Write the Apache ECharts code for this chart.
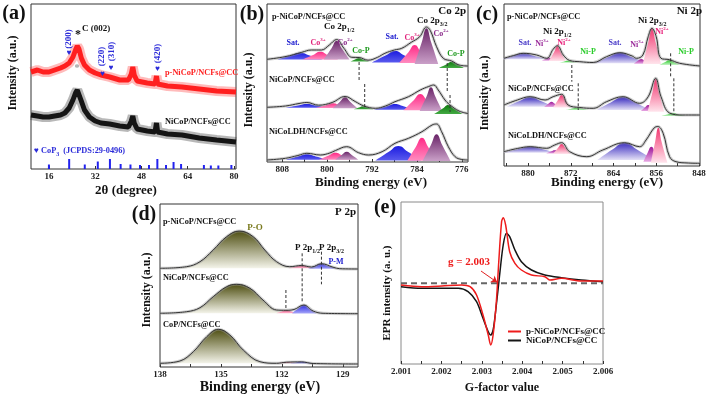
<!DOCTYPE html>
<html>
<head>
<meta charset="utf-8">
<title>p-NiCoP/NCFs@CC characterization</title>
<script src="https://cdn.jsdelivr.net/npm/echarts@6.0.0/dist/echarts.min.js"></script>
<style>
  html, body { margin: 0; padding: 0; background: #fff; }
  #chart { width: 708px; height: 394px; }
</style>
</head>
<body>
<div id="chart"></div>
<script>
const FONT = '"Liberation Serif", "Times New Roman", serif'

// (a) XRD, 2θ in degree, intensity in a.u.
const xrdTicks = [16, 32, 48, 64, 80]
const xrdRed = [[9.8, 97], [12, 99], [14, 97], [16, 97], [18, 99], [20, 101], [21.5, 103], [23, 106], [24.3, 112], [25.2, 119], [25.8, 123], [26.4, 120], [27.2, 111], [28.3, 104], [30, 99], [32, 96], [34, 94], [37, 92], [40.5, 89], [43.5, 89], [44.5, 95], [45, 102], [45.5, 94], [46.5, 88], [50, 86], [52.7, 85], [53.2, 93], [53.6, 85], [57, 83], [62, 82], [68, 80], [74, 78], [80.7, 77]]
const xrdBlack = [[9.8, 54], [12, 53], [14, 52], [16, 52], [18, 53], [20, 54], [21.5, 56], [23, 61], [24.3, 69], [25.2, 76], [25.8, 79], [26.4, 77], [27.2, 68], [28.3, 59], [30, 52], [32, 48], [34, 46], [37, 45], [40.5, 43], [43.5, 42], [44.5, 48], [45, 53], [45.5, 46], [46.5, 40], [50, 38], [52.7, 37], [53.2, 46], [53.6, 37], [57, 35], [62, 34], [68, 31], [74, 29], [80.7, 27]]
const cop3Ref = [[16.0, 4.5], [23.0, 10], [28.4, 4.5], [32.9, 7.5], [37.1, 10], [40.8, 5], [44.2, 4.5], [47.5, 4], [50.6, 4], [53.5, 10], [56.5, 4], [59.1, 7], [61.7, 5], [69.6, 4], [72.0, 3.5], [74.6, 3.5], [79.1, 4]]

// (b) Co 2p
const coTicks = [776, 784, 792, 800, 808]
const coMinor = [776, 780, 784, 788, 792, 796, 800, 804, 808]
const coTopEnv = [[810.7, 102.7], [807.5, 105.3], [804.5, 109.7], [802.8, 112], [801, 112], [799.6, 117], [798.3, 122.5], [797, 113.7], [795.6, 104.7], [794.3, 104.5], [792.7, 101.8], [791, 104.7], [789.7, 108.7], [788, 112], [786.7, 113.7], [785, 119.7], [783.5, 125.3], [782.3, 135], [781.6, 131.3], [780.5, 115.3], [779.3, 103.7], [777.8, 101], [776.5, 97], [774.9, 96]]
const coTopSat = [[[808.9, 102.5], [806.5, 106.6], [804.8, 109.3], [803.1, 106.6], [800.7, 102.5]], [[792.0, 99.5], [789.5, 106.7], [787.9, 111], [786.3, 106.7], [783.9, 99.5]]]
const coTopCo3 = [[[804.4, 102.5], [802.5, 107], [801.2, 110.3], [799.9, 107], [798.0, 102.5]], [[787.2, 99], [785.5, 109.8], [784.4, 117], [783.3, 109.8], [781.6, 99]]]
const coTopCo2 = [[[800.6, 102.5], [799.2, 113.8], [798.3, 121.3], [797.4, 113.8], [796.0, 102.5]], [[784.4, 98], [783.15, 119.4], [782.3, 133.7], [781.45, 119.4], [780.2, 98]]]
const coTopCoP = [[[795.9, 100.5], [795.0, 102.6], [794.3, 104], [793.6, 102.6], [792.4, 100.5]], [[780.1, 94], [778.7, 97.8], [777.8, 100.3], [776.9, 97.8], [775.6, 94]]]
const coMidEnv = [[810.7, 54.7], [807.4, 56], [805, 58.5], [803.6, 59.5], [801.5, 56.8], [799.1, 59.5], [796.8, 65.5], [795, 60.5], [793.5, 56.2], [791.4, 53.7], [789.6, 56], [787.9, 60.3], [785.5, 65.3], [783.4, 72], [781.9, 75.5], [781.0, 77], [780.2, 72], [779, 62], [778.2, 57.5], [776.5, 51], [774.9, 48.5]]
const coMidSat = [[[807.4, 54.3], [805.2, 56.5], [803.6, 58], [802, 56.5], [799.8, 54.3]], [[791.6, 52.3], [789.4, 55.7], [787.9, 58], [786.4, 55.7], [784.2, 52.3]]]
const coMidCo3 = [[[802, 54], [800.2, 56.8], [799, 58.7], [797.8, 56.8], [796, 54]], [[786.4, 51.7], [784.6, 61.5], [783.4, 68], [782.2, 61.5], [780.4, 51.7]]]
const coMidCo2 = [[[799, 53.7], [797.7, 60.3], [796.8, 64.7], [795.9, 60.3], [794.6, 53.7]], [[783.5, 51], [782.3, 65.2], [781.5, 74.7], [780.7, 65.2], [779.5, 51]]]
const coMidCoP = [[[795.3, 52.7], [794.3, 54.5], [793.5, 55.7], [792.7, 54.5], [791.7, 52.7]], [[780.9, 48], [779.4, 53.4], [778.4, 57], [777.4, 53.4], [775.9, 48]]]
const coBotEnv = [[810.7, 2], [807.4, 3.7], [805.2, 6.5], [803.6, 8.7], [801.2, 7], [799.5, 9], [798.5, 11.5], [796.5, 15.3], [794.4, 9.3], [792.6, 7], [790.2, 10.3], [787.9, 18.7], [785.5, 23.7], [783.1, 30.3], [781.3, 37], [780.5, 38], [779.6, 30.3], [778.4, 15.3], [777.2, 5.3], [776, 2.5], [774.9, 2]]
const coBotSat = [[[807.4, 2.3], [805.2, 5.5], [803.6, 7.7], [802, 5.5], [799.8, 2.3]], [[791.4, 1.5], [789, 10.2], [787.3, 16], [785.6, 10.2], [783.2, 1.5]]]
const coBotCo3 = [[[801.5, 2.2], [799.7, 6.5], [798.5, 9.3], [797.3, 6.5], [795.7, 2.2]], [[785.7, 1.3], [784.2, 15.1], [783.1, 24.3], [782, 15.1], [780.5, 1.3]]]
const coBotCo2 = [[[798.6, 2.2], [797.4, 7.1], [796.5, 10.3], [795.6, 7.1], [794.4, 2.2]], [[783, 1], [781.5, 17], [780.5, 27.7], [779.5, 17], [778, 1]]]
const coDashes = [[794.3, 100, 80], [793.3, 78, 55], [778.6, 99, 70], [778.1, 67, 50]]

// (c) Ni 2p
const niTicks = [848, 856, 864, 872, 880]
const niMinor = [848, 852, 856, 860, 864, 868, 872, 876, 880, 884]
const niTopEnv = [[884.5, 107.7], [882.7, 110.5], [880.9, 112.7], [878.4, 111], [876.5, 107.7], [875.3, 116.7], [874.5, 120.3], [873.4, 111], [872.2, 105.5], [870.3, 104.3], [867.8, 103.5], [865.3, 109.3], [862.8, 113.3], [860.5, 110], [859.7, 107.7], [858.5, 111], [857.5, 129.3], [856.8, 137.7], [856, 129.3], [855.1, 107.7], [853.5, 106.3], [851.6, 102.7], [847.8, 100]]
const niTopSat = [[[885, 106.7], [882.8, 110.3], [880.9, 112.7], [879, 110.3], [876.3, 106.7]], [[867.8, 102.7], [865, 109], [862.8, 113.3], [860.6, 109], [857.8, 102.7]]]
const niTopNi3 = [[[877.5, 105.3], [876.7, 107.1], [876.1, 108.5], [875.5, 107.1], [874.6, 105.3]], [[860.2, 102.3], [859.4, 105.2], [858.8, 107], [858.2, 105.2], [857.3, 102.3]]]
const niTopNi2 = [[[876.1, 105], [875.1, 114.2], [874.5, 120.3], [873.9, 114.2], [872.9, 105]], [[858.5, 102], [857.5, 123.4], [856.8, 137.7], [856.1, 123.4], [855.1, 102]]]
const niTopNiP = [[[874.2, 103.3], [873.3, 104.3], [872.5, 105.2], [871.7, 104.3], [870.5, 103.3]], [[855.4, 101], [854.3, 104], [853.5, 106], [852.7, 104], [851.6, 101]]]
const niMidEnv = [[884.5, 61], [882, 66], [879.6, 69.3], [876.8, 66], [875.3, 69.3], [873.7, 71.7], [872.5, 61], [870.3, 58.5], [867.8, 57.7], [865.3, 64.3], [862.2, 69.3], [859.1, 62.7], [857.5, 69.3], [856.1, 87.7], [855.1, 69.3], [853.5, 53], [851, 51], [847.8, 51]]
const niMidSat = [[[884, 59.3], [881.6, 65], [879.6, 68.7], [877.6, 65], [875.2, 59.3]], [[867.2, 56], [864.5, 63.6], [862.2, 68.7], [859.9, 63.6], [857.2, 56]]]
const niMidNi3 = [[[877, 59], [876.2, 62.2], [875.6, 64.3], [875, 62.2], [874.1, 59]], [[858.9, 55], [858.1, 58.6], [857.5, 61], [856.9, 58.6], [856, 55]]]
const niMidNi2 = [[[875.3, 58.5], [874.4, 66], [873.7, 71], [873, 66], [872, 58.5]], [[857.6, 54.3], [856.7, 74], [856.1, 87], [855.5, 74], [854.5, 54.3]]]
const niMidNiP = [[[872.8, 56], [871.7, 57.4], [870.9, 58.3], [870.1, 57.4], [868.7, 56]], [[855.1, 50], [853.9, 51.6], [852.9, 52.7], [851.9, 51.6], [850.5, 50]]]
const niBotEnv = [[884.5, 14.3], [882, 17.5], [879.6, 19.3], [876.5, 17.7], [875, 21], [873.7, 23.3], [872.2, 14.3], [869, 9.3], [866, 16], [861.9, 23.3], [859.1, 19.3], [857.9, 26], [856.4, 38], [855.7, 39.5], [854.7, 32.7], [853.5, 9.3], [852.3, 4.3], [850, 3], [847.8, 2.7]]
const niBotSat = [[[884.6, 13.3], [881.8, 17], [879.6, 19.3], [877.4, 17], [874.8, 13.3]], [[867, 6], [864.2, 16.4], [861.9, 23.3], [859.6, 16.4], [856.5, 6]]]
const niBotNi3 = [[[876.6, 12.5], [875.7, 14.5], [875, 15.8], [874.3, 14.5], [873.3, 12.5]], [[858.4, 4.3], [857.6, 13.3], [856.9, 19.3], [856.2, 13.3], [855.3, 4.3]]]
const niBotNi2 = [[[875.3, 12], [874.4, 18], [873.7, 22], [873, 18], [872, 12]], [[857, 3.3], [856.2, 24.3], [855.6, 38.3], [855, 24.3], [853.9, 3.3]]]
const niDashes = [[871.8, 101, 84.3], [870.6, 82.7, 56], [853.3, 112.7, 89.3], [852.7, 87.7, 52.7]]

// (d) P 2p
const pTicks = [129, 132, 135, 138]
const pMinor = [129, 130.5, 132, 133.5, 135, 136.5, 138]
const pTopEnv = [[138, 98.7], [136.69, 100.3], [136.03, 105.3], [135.38, 117], [134.72, 130.3], [134.1, 136], [133.41, 130.3], [132.84, 117], [132.26, 105.3], [131.61, 100.3], [131.03, 101.5], [130.54, 100], [130.05, 103.3], [129.48, 99.8], [129.15, 98.3], [128.25, 98]]
const pTopPO = [[[137.5, 98.7], [136.69, 100.3], [136.03, 105.3], [135.38, 117], [134.72, 130.3], [134.1, 136], [133.41, 130.3], [132.84, 117], [132.26, 105.3], [131.61, 100.3], [130.8, 98.7]]]
const pTopP12 = [[[131.7, 98.7], [131.3, 100.5], [131.03, 101.5], [130.75, 100.5], [130.4, 98.7]]]
const pTopP32 = [[[130.7, 98.3], [130.35, 101.3], [130.05, 103.3], [129.75, 101.3], [129.3, 98.3]]]
const pMidEnv = [[138, 53.7], [136.69, 55.3], [136.03, 59.3], [135.38, 70.3], [134.72, 80.3], [134.23, 82.7], [133.57, 78.7], [132.93, 67], [132.26, 57], [131.8, 56.7], [131.4, 57.5], [130.92, 62], [130.46, 56], [129.97, 53.7], [128.25, 53.3]]
const pMidPO = [[[137.5, 53.7], [136.69, 55.3], [136.03, 59.3], [135.38, 70.3], [134.72, 80.3], [134.23, 82.7], [133.57, 78.7], [132.93, 67], [132.26, 57], [131.5, 53.7]]]
const pMidP12 = [[[132.3, 53.7], [132.0, 55.5], [131.8, 56.7], [131.55, 55.5], [131.25, 53.7]]]
const pMidP32 = [[[131.5, 53.5], [131.2, 58.5], [130.92, 62], [130.65, 58.5], [130.3, 53.5]]]
const pBotEnv = [[138, 3.7], [137.02, 6], [136.36, 15.3], [135.7, 30.3], [135.13, 37.7], [134.56, 32], [133.9, 17], [133.08, 5.3], [132.26, 3.7], [131.77, 4.8], [131.03, 5.1], [130.46, 3.5], [128.25, 3]]
const pBotPO = [[[137.6, 3.7], [137.02, 6], [136.36, 15.3], [135.7, 30.3], [135.13, 37.7], [134.56, 32], [133.9, 17], [133.08, 5.3], [132.5, 3.7]]]
const pBotP12 = [[[132.3, 3.7], [132.0, 4.5], [131.77, 5], [131.5, 4.5], [131.2, 3.7]]]
const pBotP32 = [[[131.6, 3.5], [131.3, 4.6], [131.03, 5.2], [130.75, 4.6], [130.4, 3.5]]]
const pDashes = [[131.0, 113.7, 64], [130.05, 115.3, 82.7], [131.8, 77, 58.7]]

// (e) EPR
const gTicks = [2.001, 2.002, 2.003, 2.004, 2.005, 2.006]
const gMinor = [2.001, 2.0015, 2.002, 2.0025, 2.003, 2.0035, 2.004, 2.0045, 2.005, 2.0055, 2.006]
const eprNames = ['p-NiCoP/NCFs@CC', 'NiCoP/NCFs@CC']
const eprRed = [[2.001, 79], [2.00151, 77.3], [2.00201, 78], [2.0025, 79], [2.00271, 77.3], [2.00287, 69], [2.00303, 49], [2.00316, 29], [2.00322, 19], [2.00328, 29], [2.00336, 62.3], [2.00342, 102.3], [2.00349, 142.3], [2.00353, 146.3], [2.00359, 139], [2.00369, 112.3], [2.00382, 100.7], [2.00398, 94], [2.00423, 89], [2.00456, 87.3], [2.00468, 84], [2.00497, 85.7], [2.00546, 83], [2.006, 83]]
const eprBlack = [[2.001, 77.3], [2.00151, 75.7], [2.00201, 75.7], [2.00242, 75.7], [2.00266, 72.3], [2.00287, 62.3], [2.00303, 45.7], [2.00316, 32.3], [2.00322, 29], [2.00328, 34], [2.00336, 59], [2.00345, 92.3], [2.00353, 119], [2.00361, 130.7], [2.00369, 127.3], [2.00382, 114], [2.00398, 102.3], [2.00423, 94], [2.00456, 89], [2.00497, 86.3], [2.00546, 84], [2.006, 82.3]]
const eprZero = [[2.001, 80.7], [2.006, 80.7]]
const gArrow = [[2.00298, 93], [2.00338, 81.7]]

const chart = echarts.init(document.getElementById('chart'))

const grad = (top, bottom) => new echarts.graphic.LinearGradient(0, 0, 0, 1, [
  { offset: 0, color: top },
  { offset: 1, color: bottom },
])

const coColors = {
  sat: ['#1c1ce0', '#5a5aee'],
  co3: ['#ff2a86', '#ff8cc0'],
  co2: ['#6a2468', '#caa0c8'],
  cop: ['#0e7a0e', '#44aa44'],
}
const niColors = {
  sat: ['#3a2cc0', '#e4e0f6'],
  ni3: ['#9c1496', '#e8a8e4'],
  ni2: ['#f23670', '#ffe4ec'],
  nip: ['#22cc22', '#c8f4c8'],
}
const pColors = {
  po: ['#4f4f12', '#f4f4ea'],
  p12: ['#ff3c7a', '#ffc4d8'],
  p32: ['#2626e6', '#a8a8f8'],
}

const series = []

function peaks(g, list, colors) {
  list.forEach((pts) => {
    series.push({
      type: 'line',
      xAxisIndex: g,
      yAxisIndex: g,
      data: pts,
      smooth: true,
      symbol: 'none',
      silent: true,
      lineStyle: { opacity: 0 },
      areaStyle: { origin: pts[0][1], color: grad(colors[0], colors[1]), opacity: 1 },
    })
  })
}

function envelope(g, pts) {
  series.push({
    type: 'line', xAxisIndex: g, yAxisIndex: g, data: pts, smooth: 0.4, symbol: 'none', silent: true,
    lineStyle: { color: 'rgba(150,150,150,0.45)', width: 3 },
  })
  series.push({
    type: 'line', xAxisIndex: g, yAxisIndex: g, data: pts, smooth: 0.4, symbol: 'none', silent: true,
    lineStyle: { color: '#333', width: 1 },
  })
}

function dashes(g, list) {
  list.forEach(([x, y1, y2]) => {
    series.push({
      type: 'line', xAxisIndex: g, yAxisIndex: g, data: [[x, y1], [x, y2]], symbol: 'none', silent: true,
      lineStyle: { color: '#333', width: 1, type: [3, 2] },
    })
  })
}

// noisy diffraction trace: a faint wide band under a solid core
function xrdTrace(pts, color) {
  series.push({
    type: 'line', xAxisIndex: 0, yAxisIndex: 0, data: pts, symbol: 'none', silent: true,
    lineStyle: { color, width: 10, opacity: 0.3 },
  })
  series.push({
    type: 'line', xAxisIndex: 0, yAxisIndex: 0, data: pts, symbol: 'none', silent: true,
    lineStyle: { color, width: 5 },
  })
}

// (a)
series.push({
  type: 'bar', xAxisIndex: 0, yAxisIndex: 0, data: cop3Ref, barWidth: 2, silent: true,
  itemStyle: { color: '#2222ee' },
})
xrdTrace(xrdBlack, '#151515')
xrdTrace(xrdRed, '#ff1f1f')

// (b)
peaks(1, coTopSat, coColors.sat)
peaks(1, coTopCo3, coColors.co3)
peaks(1, coTopCo2, coColors.co2)
peaks(1, coTopCoP, coColors.cop)
envelope(1, coTopEnv)
peaks(1, coMidSat, coColors.sat)
peaks(1, coMidCo3, coColors.co3)
peaks(1, coMidCo2, coColors.co2)
peaks(1, coMidCoP, coColors.cop)
envelope(1, coMidEnv)
peaks(1, coBotSat, coColors.sat)
peaks(1, coBotCo3, coColors.co3)
peaks(1, coBotCo2, coColors.co2)
envelope(1, coBotEnv)
dashes(1, coDashes)

// (c)
peaks(2, niTopSat, niColors.sat)
peaks(2, niTopNi3, niColors.ni3)
peaks(2, niTopNi2, niColors.ni2)
peaks(2, niTopNiP, niColors.nip)
envelope(2, niTopEnv)
peaks(2, niMidSat, niColors.sat)
peaks(2, niMidNi3, niColors.ni3)
peaks(2, niMidNi2, niColors.ni2)
peaks(2, niMidNiP, niColors.nip)
envelope(2, niMidEnv)
peaks(2, niBotSat, niColors.sat)
peaks(2, niBotNi3, niColors.ni3)
peaks(2, niBotNi2, niColors.ni2)
envelope(2, niBotEnv)
dashes(2, niDashes)

// (d)
peaks(3, pTopPO, pColors.po)
peaks(3, pTopP12, pColors.p12)
peaks(3, pTopP32, pColors.p32)
envelope(3, pTopEnv)
peaks(3, pMidPO, pColors.po)
peaks(3, pMidP12, pColors.p12)
peaks(3, pMidP32, pColors.p32)
envelope(3, pMidEnv)
peaks(3, pBotPO, pColors.po)
peaks(3, pBotP12, pColors.p12)
peaks(3, pBotP32, pColors.p32)
envelope(3, pBotEnv)
dashes(3, pDashes)

// (e)
series.push({
  type: 'line', xAxisIndex: 4, yAxisIndex: 4, data: eprZero, symbol: 'none', silent: true,
  lineStyle: { color: '#666', width: 2, type: [6, 4] },
})
series.push({
  name: eprNames[1], type: 'line', xAxisIndex: 4, yAxisIndex: 4, data: eprBlack, smooth: 0.3, symbol: 'none',
  lineStyle: { color: '#151515', width: 1.5 }, itemStyle: { color: '#151515' },
})
series.push({
  name: eprNames[0], type: 'line', xAxisIndex: 4, yAxisIndex: 4, data: eprRed, smooth: 0.3, symbol: 'none',
  lineStyle: { color: '#ee1c1c', width: 1.5 }, itemStyle: { color: '#ee1c1c' },
  markLine: {
    silent: true,
    symbol: ['none', 'arrow'],
    symbolSize: 6,
    label: { show: false },
    lineStyle: { color: '#e02020', type: 'solid', width: 1 },
    data: [[{ coord: gArrow[0] }, { coord: gArrow[1] }]],
  },
})

function xAxis(g, min, max, labels, ticks, inverse, fmt) {
  return {
    gridIndex: g,
    type: 'value',
    min,
    max,
    inverse: !!inverse,
    axisLine: { show: false },
    axisTick: { show: true, inside: true, length: 3, customValues: ticks, lineStyle: { color: '#333' } },
    axisLabel: {
      customValues: labels, margin: 3, color: '#222',
      fontFamily: FONT, fontWeight: 'bold', fontSize: 9, formatter: fmt,
    },
    splitLine: { show: false },
  }
}

const yMax = [165, 158, 162, 163, 162]

function T(x, y, text, o = {}) {
  const size = o.size || 8.3
  const color = o.color || '#111'
  const small = Math.round(size * 0.68)
  return {
    type: 'text',
    x,
    y,
    rotation: o.rot || 0,
    z: 100,
    silent: true,
    style: {
      text,
      font: `bold ${size}px ${FONT}`,
      fill: color,
      align: o.align || 'left',
      verticalAlign: 'middle',
      lineHeight: size + 4,
      rich: {
        sub: { font: `bold ${small}px ${FONT}`, fill: color, verticalAlign: 'bottom' },
        sup: { font: `bold ${small}px ${FONT}`, fill: color, verticalAlign: 'top' },
      },
    },
  }
}

const up = Math.PI / 2
const blue = '#2b2bd9'
const notes = [
  // (a)
  T(14, 14, '(a)', { size: 20, align: 'center' }),
  T(13, 73, 'Intensity (a.u.)', { size: 12, align: 'center', rot: up }),
  T(126, 191, '2θ (degree)', { size: 13, align: 'center' }),
  T(78, 35, '*', { size: 12, align: 'center' }),
  T(82, 29, 'C (002)', { size: 9 }),
  T(77, 68, '*', { size: 10, align: 'center', color: '#9a9a9a' }),
  T(69, 53, '♥', { size: 8, align: 'center', color: blue }),
  T(69, 39, '(200)', { size: 9, align: 'center', color: blue, rot: up }),
  T(102.7, 74, '♥', { size: 8, align: 'center', color: blue }),
  T(101.7, 56.5, '(220)', { size: 9, align: 'center', color: blue, rot: up }),
  T(111, 68.3, '♥', { size: 8, align: 'center', color: blue }),
  T(111.7, 51.5, '(310)', { size: 9, align: 'center', color: blue, rot: up }),
  T(157.7, 69.3, '♥', { size: 8, align: 'center', color: blue }),
  T(157.7, 53.5, '(420)', { size: 9, align: 'center', color: blue, rot: up }),
  T(165, 73, 'p-NiCoP/NCFs@CC', { color: '#ff1f1f' }),
  T(165, 122, 'NiCoP/NCFs@CC'),
  T(34, 151, '♥ CoP{sub|3}  (JCPDS:29-0496)', { color: blue }),
  // (b)
  T(252, 15, '(b)', { size: 20, align: 'center' }),
  T(249, 90, 'Intensity (a.u.)', { size: 12, align: 'center', rot: up }),
  T(371, 183, 'Binding energy (eV)', { size: 13, align: 'center' }),
  T(466, 11, 'Co 2p', { size: 11, align: 'right' }),
  T(272, 17, 'p-NiCoP/NCFs@CC'),
  T(324, 27, 'Co 2p{sub|1/2}', { size: 9 }),
  T(417, 21, 'Co 2p{sub|3/2}', { size: 9 }),
  T(293, 43, 'Sat.', { size: 8, align: 'center', color: '#2020d0' }),
  T(318, 43, 'Co{sup|3+}', { size: 8, align: 'center', color: '#e0207a' }),
  T(345, 43, 'Co{sup|2+}', { size: 8, align: 'center', color: '#8a2a8a' }),
  T(361, 51, 'Co-P', { size: 8, align: 'center', color: '#1e9a1e' }),
  T(392, 37, 'Sat.', { size: 8, align: 'center', color: '#2020d0' }),
  T(412, 38, 'Co{sup|3+}', { size: 8, align: 'center', color: '#e0207a' }),
  T(441, 34, 'Co{sup|2+}', { size: 8, align: 'center', color: '#8a2a8a' }),
  T(456, 54, 'Co-P', { size: 8, align: 'center', color: '#1e9a1e' }),
  T(269, 80, 'NiCoP/NCFs@CC'),
  T(269, 132, 'NiCoLDH/NCFs@CC'),
  // (c)
  T(487, 15, '(c)', { size: 20, align: 'center' }),
  T(485, 93, 'Intensity (a.u.)', { size: 12, align: 'center', rot: up }),
  T(607, 183, 'Binding energy (eV)', { size: 13, align: 'center' }),
  T(702, 11, 'Ni 2p', { size: 11, align: 'right' }),
  T(507, 17, 'p-NiCoP/NCFs@CC'),
  T(543, 32, 'Ni 2p{sub|1/2}', { size: 9 }),
  T(638, 21, 'Ni 2p{sub|3/2}', { size: 9 }),
  T(525, 43, 'Sat.', { size: 8, align: 'center', color: '#4a3cc8' }),
  T(542, 44, 'Ni{sup|3+}', { size: 8, align: 'center', color: '#9a2a9a' }),
  T(564, 43, 'Ni{sup|2+}', { size: 8, align: 'center', color: '#e8207a' }),
  T(588, 52, 'Ni-P', { size: 8, align: 'center', color: '#2acc2a' }),
  T(615, 43, 'Sat.', { size: 8, align: 'center', color: '#4a3cc8' }),
  T(637, 45, 'Ni{sup|3+}', { size: 8, align: 'center', color: '#9a2a9a' }),
  T(662, 32, 'Ni{sup|2+}', { size: 8, align: 'center', color: '#e8207a' }),
  T(686, 52, 'Ni-P', { size: 8, align: 'center', color: '#2acc2a' }),
  T(508, 89, 'NiCoP/NCFs@CC'),
  T(508, 136, 'NiCoLDH/NCFs@CC'),
  // (d)
  T(144, 215, '(d)', { size: 20, align: 'center' }),
  T(147, 290, 'Intensity (a.u.)', { size: 12, align: 'center', rot: up }),
  T(260, 387, 'Binding energy (eV)', { size: 14, align: 'center' }),
  T(356, 212, 'P 2p', { size: 11, align: 'right' }),
  T(163, 222, 'p-NiCoP/NCFs@CC'),
  T(255, 228, 'P-O', { size: 9, align: 'center', color: '#7a7a1e' }),
  T(295, 248, 'P 2p{sub|1/2}', { size: 9 }),
  T(319, 248, 'P 2p{sub|3/2}', { size: 9 }),
  T(336, 262, 'P-M', { size: 8, align: 'center', color: '#2020d0' }),
  T(163, 278, 'NiCoP/NCFs@CC'),
  T(163, 325, 'CoP/NCFs@CC'),
  // (e)
  T(385, 208, '(e)', { size: 20, align: 'center' }),
  T(387, 293, 'EPR intensity (a. u.)', { size: 11, align: 'center', rot: up }),
  T(502, 388, 'G-factor value', { size: 12, align: 'center' }),
  T(469, 262, 'g = 2.003', { size: 11, align: 'center', color: '#ee1c1c' }),
]

const option = {
  animation: false,
  backgroundColor: '#fff',
  grid: [
    { left: 31, top: 4, width: 205, height: 165 },
    { left: 267, top: 4, width: 201, height: 158 },
    { left: 504, top: 4, width: 196, height: 162 },
    { left: 160, top: 204, width: 198, height: 163 },
    { left: 401, top: 202, width: 202, height: 162 },
  ].map((g, i) => ({
    ...g,
    show: true,
    containLabel: false,
    outerBoundsMode: 'none',
    borderColor: i === 4 ? '#8a8a8a' : '#333',
    borderWidth: 1,
  })),
  xAxis: [
    xAxis(0, 9.8, 80.7, xrdTicks, xrdTicks, false),
    xAxis(1, 774.9, 810.7, coTicks, coMinor, true),
    xAxis(2, 847.8, 884.5, niTicks, niMinor, true),
    xAxis(3, 128.25, 138, pTicks, pMinor, true),
    xAxis(4, 2.001, 2.006, gTicks, gMinor, false, (v) => v.toFixed(3)),
  ],
  yAxis: yMax.map((max, i) => ({ gridIndex: i, type: 'value', min: 0, max, show: false })),
  legend: {
    data: eprNames,
    left: 503,
    top: 322,
    orient: 'vertical',
    icon: 'rect',
    itemWidth: 13,
    itemHeight: 2,
    itemGap: 0,
    textStyle: { fontFamily: FONT, fontWeight: 'bold', fontSize: 9, color: '#111' },
  },
  series,
  graphic: notes,
}

chart.setOption(option)
</script>
</body>
</html>
